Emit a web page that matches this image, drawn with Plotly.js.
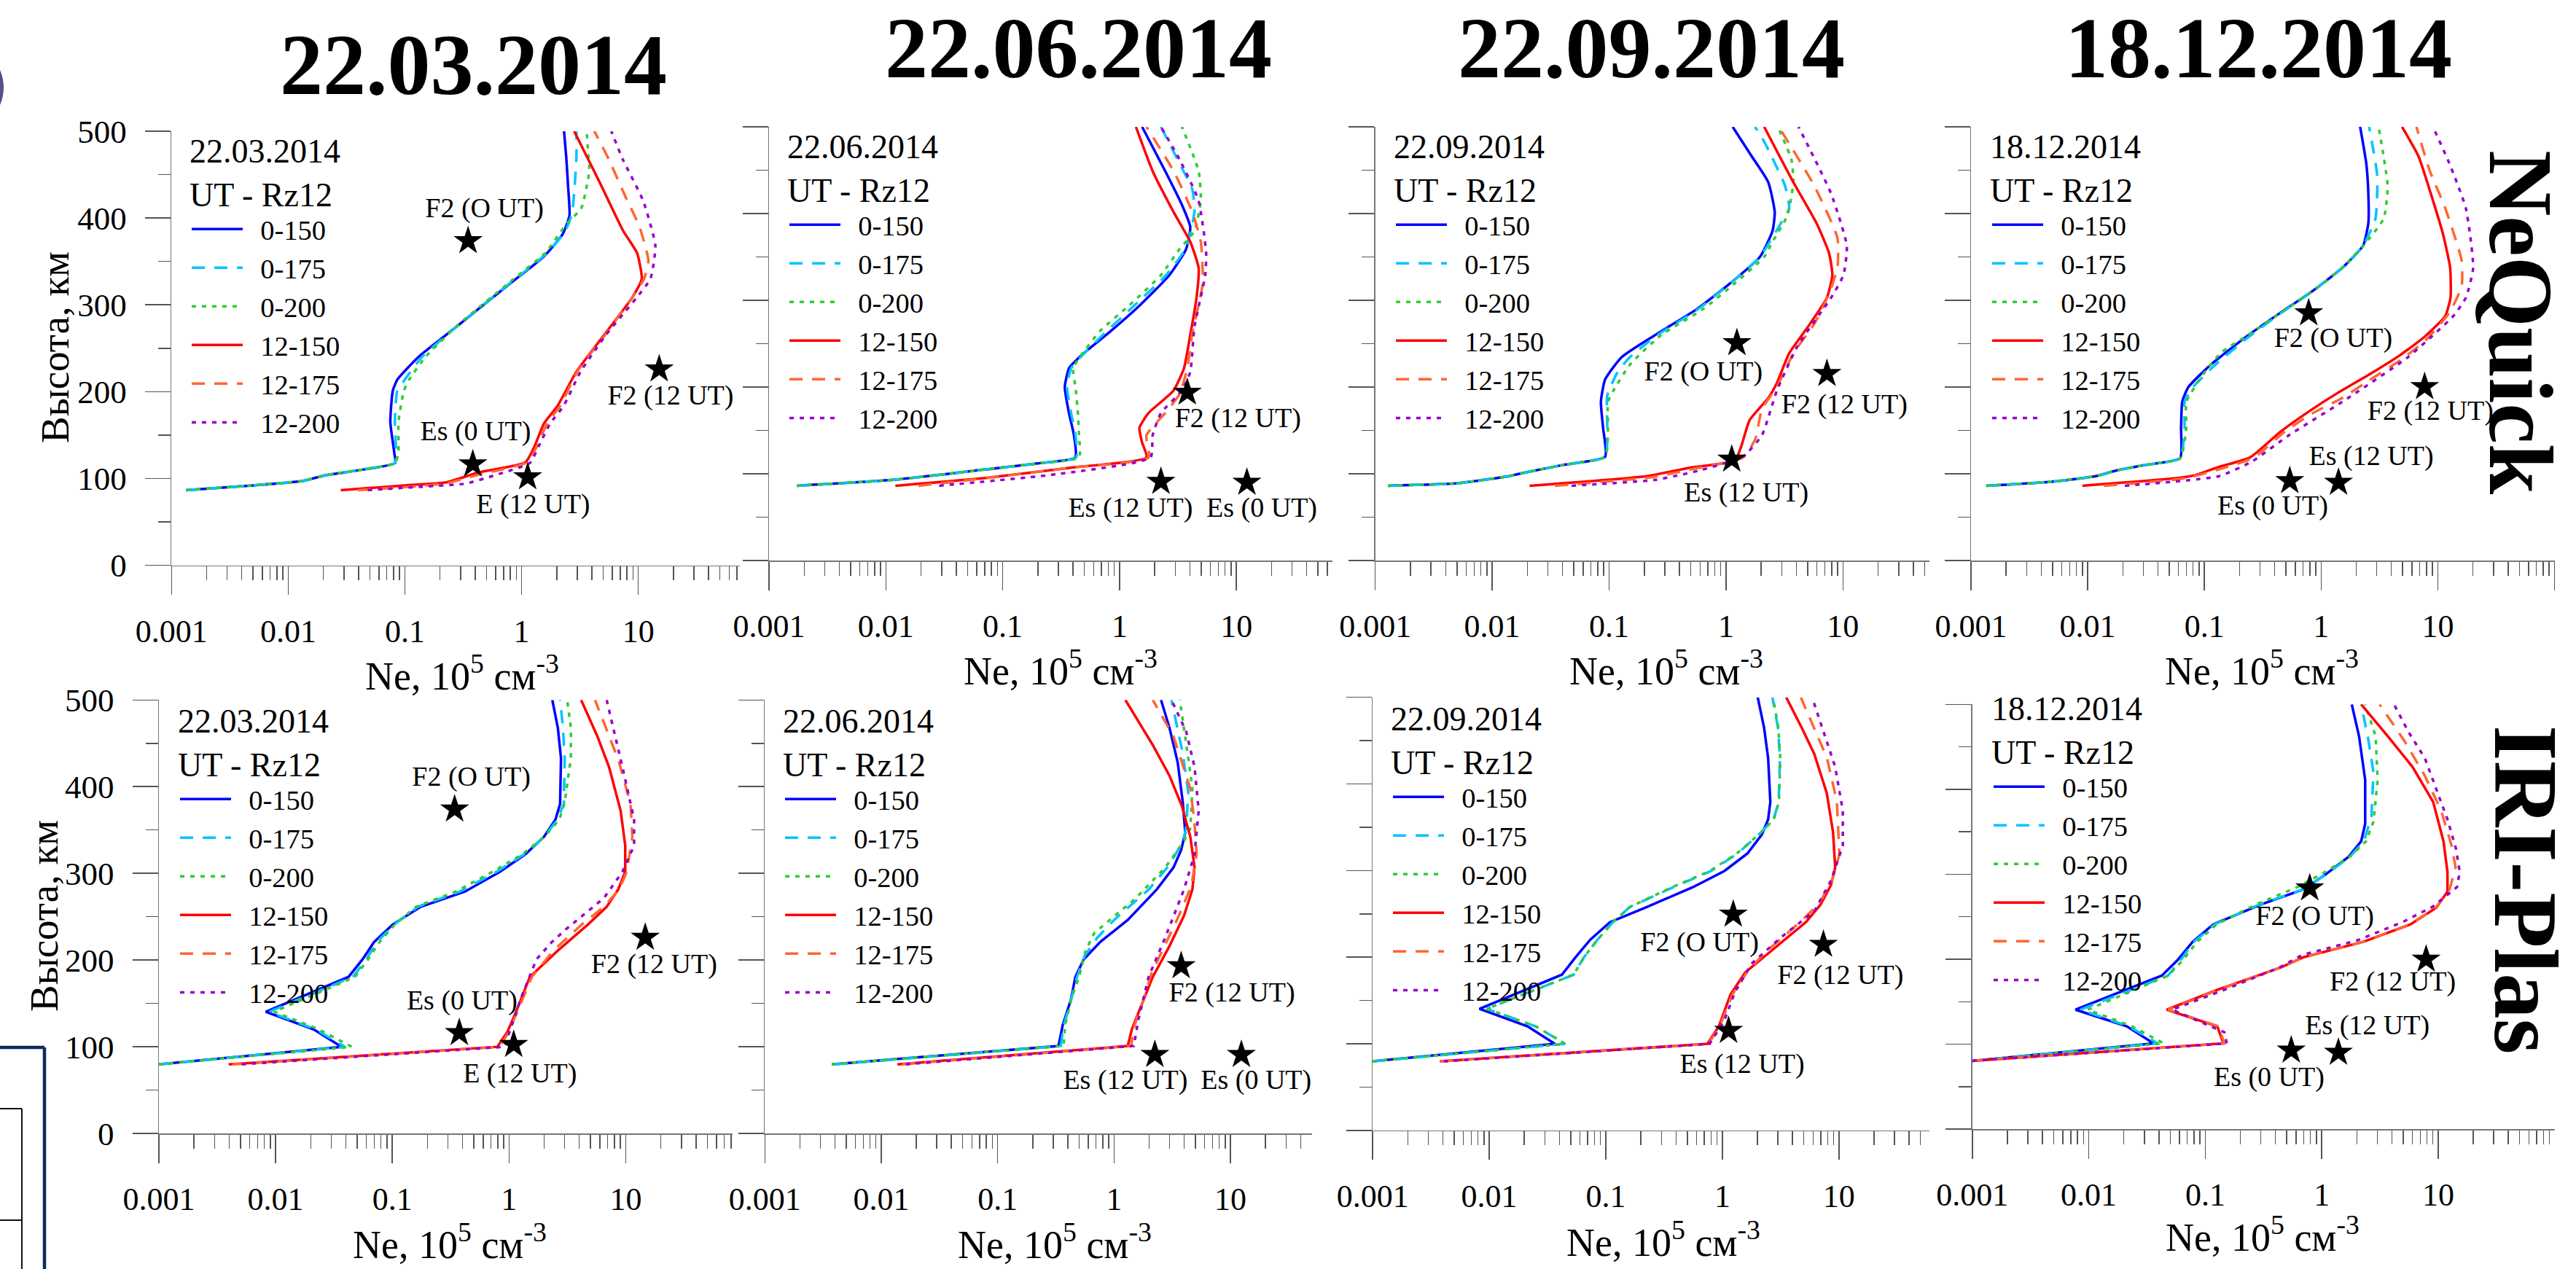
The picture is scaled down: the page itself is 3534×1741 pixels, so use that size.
<!DOCTYPE html>
<html><head><meta charset="utf-8">
<script src="https://cdn.plot.ly/plotly-3.0.1.min.js"></script>
<style>html,body{margin:0;padding:0;background:#fff;}#chart{width:3534px;height:1741px;}</style>
</head><body><div id="chart"></div>
<script>
// ---------------- DATA (Ne in 10^5 cm^-3, h in km) ----------------
const SERIES = ['0-150','0-175','0-200','12-150','12-175','12-200'];
const DATES = ['22.03.2014','22.06.2014','22.09.2014','18.12.2014'];
const MODELS = ['NeQuick','IRI-Plas'];
const TICK_VALUES = [0.001, 0.01, 0.1, 1, 10, 100];
const TICK_TEXT = ['0.001','0.01','0.1','1','10','100'];

// NeQuick 22.03.2014
const nq_mar_0150_ne = [0.00133,0.005,0.0132,0.0208,0.045,0.0824,0.081,0.075,0.0787,0.0863,0.1306,0.272,0.43,0.817,1.55,2.24,2.57,2.50,2.41,2.31];
const nq_mar_0150_h  = [86.5,92,97,103.7,110.5,117.8,130,165,201,214,240,274,295.6,325.6,355.6,381,402.7,437,471,500];
const nq_mar_0175_ne = [0.00133,0.005,0.0132,0.0208,0.045,0.0824,0.084,0.082,0.086,0.1,0.14,0.272,0.44,0.85,1.6,2.35,2.7,2.85,2.95,2.95];
const nq_mar_0175_h  = [86.5,92,97,103.7,110.5,117.8,130,165,201,214,240,274,297,328,358,384,405,437,471,500];
const nq_mar_0200_ne = [0.00133,0.005,0.0132,0.0208,0.045,0.0824,0.088,0.088,0.098,0.109,0.15,0.28,0.44,0.84,1.6,2.45,3.24,3.8,3.7,3.61];
const nq_mar_0200_h  = [86.5,92,97,103.7,110.5,117.8,130,165,201,214,240,276,298,329,360,394,411,454,480,500];
const nq_mar_12150_ne = [0.0282,0.1,0.226,0.43,1.08,1.29,1.55,2.04,2.95,5.12,8.87,10.7,9.73,7.39,4.67,2.82];
const nq_mar_12150_h  = [86.5,92,95.5,107,118.7,137,163,184,223,265.6,308.5,330,360,385.6,441,500];
const nq_mar_12175_ne = [0.0395,0.1,0.22,0.42,1.12,1.35,1.65,2.15,3.0,5.2,8.9,11.2,12.2,10.2,7.73,5.61,4.2];
const nq_mar_12175_h  = [86.5,90,94,104,118.7,137,163,184,223,265.6,308.5,330,351,390.5,425,467,500];
const nq_mar_12200_ne = [0.048,0.12,0.33,0.6,1.18,1.4,1.75,2.3,3.2,5.3,9.7,12.7,14.0,11.0,7.39,5.87];
const nq_mar_12200_h  = [86.5,90,94,104,118,137,163,184,223,265.6,308.5,330,368,420,467,500];
const nq_mar_star_ne = [0.348,0.382,1.127,15.1];
const nq_mar_star_h  = [373.6,116.5,101.5,225.8];
const nq_mar_lbl     = ['F2 (O UT)','Es (0 UT)','E (12 UT)','F2 (12 UT)'];
const nq_mar_lbl_ne  = [0.48,0.403,1.256,18.9];
const nq_mar_lbl_h   = [409,152,67.7,192.8];

// NeQuick 22.06.2014
const nq_jun_0150_ne = [0.00174,0.01156,0.071,0.2,0.418,0.407,0.369,0.34,0.37,0.473,0.842,1.50,2.67,3.71,4.03,3.42,2.46,1.56];
const nq_jun_0150_h  = [86.2,93,105,112,118.8,144.5,170,200,221.7,236.7,264.6,294.6,329,359,384.6,410,449,500];
const nq_jun_0175_ne = [0.00174,0.01156,0.071,0.2,0.425,0.42,0.385,0.355,0.385,0.48,0.78,1.35,2.5,3.7,4.37,4.2,3.15,2.26];
const nq_jun_0175_h  = [86.2,93,105,112,118.8,144.5,170,200,221.7,236.7,264.6,294.6,329,360,401.8,427.5,461.8,500];
const nq_jun_0200_ne = [0.00174,0.01156,0.071,0.2,0.45,0.45,0.44,0.42,0.40,0.47,0.68,1.22,2.26,3.26,4.37,4.96,4.75,3.42];
const nq_jun_0200_h  = [86.2,93,105,112,118.8,144.5,170,200,221.7,236.7,264.6,294.6,329,359,380,414.7,449,500];
const nq_jun_12150_ne = [0.01206,0.071,0.369,1.70,1.56,1.48,1.77,2.90,3.56,4.03,4.56,4.75,4.03,2.90,1.92,1.38];
const nq_jun_12150_h  = [86.2,95.2,106.8,118.8,136,153,170,196,221.7,260,303,337.5,367.5,401.8,449,500];
const nq_jun_12175_ne = [0.019,0.075,0.37,1.77,1.70,2.46,3.26,3.80,4.17,4.75,5.16,4.96,4.2,2.9,1.70];
const nq_jun_12175_h  = [86.2,95.2,106.8,118.8,144.5,170,191.7,221.7,260,294.6,320,367.5,401.8,449,500];
const nq_jun_12200_ne = [0.0286,0.288,1.84,1.92,2.26,3.42,4.03,4.37,5.41,5.51,4.75,3.28,2.26];
const nq_jun_12200_h  = [86.2,99.5,118.8,144.5,170,196,217.4,269,329,354.6,414.7,461.8,500];
const nq_jun_star_ne = [3.80,2.26,12.3];
const nq_jun_star_h  = [193.8,90.9,90];
const nq_jun_lbl     = ['F2 (12 UT)','Es (12 UT)','Es (0 UT)'];
const nq_jun_lbl_ne  = [10.3,1.24,16.5];
const nq_jun_lbl_h   = [161.7,58.7,58.7];

// NeQuick 22.09.2014
const nq_sep_0150_ne = [0.00129,0.005,0.01387,0.0209,0.0405,0.0925,0.0888,0.0851,0.0925,0.1286,0.248,0.566,1.096,1.95,2.50,2.61,2.30,1.66,1.14];
const nq_sep_0150_h  = [86.2,89,97.3,102.5,110.2,119.6,153,183,208.8,234.6,260,290,320,350,380,401.8,436,466,500];
const nq_sep_0175_ne = [0.00129,0.005,0.01387,0.0209,0.0405,0.0925,0.0964,0.0964,0.118,0.151,0.26,0.58,1.1,1.95,2.95,3.47,3.20,2.12,1.77];
const nq_sep_0175_h  = [86.2,89,97.3,102.5,110.2,119.6,153,190,217,234.6,260,290,320,350,389,406,431.8,483,500];
const nq_sep_0200_ne = [0.00129,0.005,0.01387,0.0209,0.0405,0.0925,0.0978,0.0978,0.109,0.151,0.28,0.64,1.2,2.12,2.5,3.34,3.77,3.63,2.78];
const nq_sep_0200_h  = [86.2,89,97.3,102.5,110.2,119.6,153,183,196,226,260,290,320,350,367.5,397.5,436,462,500];
const nq_sep_12150_ne = [0.0209,0.211,0.481,1.19,1.35,1.59,2.30,2.72,3.47,5.24,7.30,8.12,7.60,5.94,3.77,2.12];
const nq_sep_12150_h  = [86.2,97.3,106.8,115.4,131.6,161.7,187.4,204.5,238.9,273,303,329,354.6,389,436,500];
const nq_sep_12175_ne = [0.0344,0.23,0.5,1.40,1.78,2.03,2.72,3.77,5.7,7.6,8.98,8.98,5.70,2.83];
const nq_sep_12175_h  = [86.2,96,105,118.8,140,174.5,200,238.9,273,307.5,337.5,371.8,431.8,500];
const nq_sep_12200_ne = [0.0478,0.248,0.6,1.40,2.03,2.72,4.10,7.92,10.1,10.8,7.92,4.17];
const nq_sep_12200_h  = [86.2,93,104,120,144.5,195.7,247.5,303,329,362.7,423,500];
const nq_sep_star_ne = [1.24,7.30,1.12];
const nq_sep_star_h  = [250.9,215.3,116.6];
const nq_sep_lbl     = ['F2 (O UT)','F2 (12 UT)','Es (12 UT)'];
const nq_sep_lbl_ne  = [0.64,10.3,1.49];
const nq_sep_lbl_h   = [215.3,178,75.9];

// NeQuick 18.12.2014
const nq_dec_0150_ne = [0.00135,0.005,0.01175,0.0176,0.0311,0.0619,0.0631,0.0646,0.0729,0.114,0.218,0.452,0.865,1.52,2.29,2.54,2.54,2.44,2.16];
const nq_dec_0150_h  = [86.2,91,97.3,103.8,110.2,117.9,153,183,200,226,256,286,311.7,337.5,363,389,423,457.5,500];
const nq_dec_0175_ne = [0.00135,0.005,0.01175,0.0176,0.0311,0.0619,0.0676,0.0676,0.08,0.125,0.23,0.46,0.87,1.52,2.29,2.92,3.03,2.58];
const nq_dec_0175_h  = [86.2,91,97.3,103.8,110.2,117.9,153,183,200,226,256,286,311.7,337.5,363,394,443,500];
const nq_dec_0200_ne = [0.00135,0.005,0.01175,0.0176,0.0311,0.0619,0.07,0.07,0.098,0.14,0.25,0.48,0.88,1.52,2.3,3.43,3.72,3.11];
const nq_dec_0200_h  = [86.2,91,97.3,103.8,110.2,117.9,153,183,215,240,262,288,312,337.5,363,394,431,500];
const nq_dec_12150_ne = [0.009,0.0596,0.0823,0.134,0.246,0.452,0.797,1.41,2.48,4.74,7.71,11.56,12.85,12.76,11.1,8.71,6.84,4.94];
const nq_dec_12150_h  = [86.2,95.2,98.2,108,118.8,148.8,172.4,193.8,213,236.7,258,281.7,303,337.5,376,423,466,500];
const nq_dec_12175_ne = [0.0138,0.07,0.14,0.267,0.49,0.85,1.52,2.6,4.9,8.0,12.6,16.0,16.0,11.6,8.5,6.56];
const nq_dec_12175_h  = [86.2,95,106,118.8,148.8,170,187.4,208,232,255,286,316,346,406,450,500];
const nq_dec_12200_ne = [0.0208,0.134,0.256,0.531,1.52,5.57,13.6,17.4,20.1,17.4,12.6,9.08];
const nq_dec_12200_h  = [86.2,97.3,114.2,144.5,183,234.6,282,303,337.5,406,457.5,500];
const nq_dec_star_ne = [0.783,7.71,1.41,0.539];
const nq_dec_star_h  = [285.2,200.3,90,91.8];
const nq_dec_lbl     = ['F2 (O UT)','F2 (12 UT)','Es (12 UT)','Es (0 UT)'];
const nq_dec_lbl_ne  = [1.27,8.65,2.69,0.385];
const nq_dec_lbl_h   = [253.9,170.2,118,60.9];

// IRI-Plas 22.03.2014
const iri_mar_0150_ne = [0.001,0.0368,0.0212,0.00824,0.0422,0.0556,0.07,0.101,0.175,0.419,0.832,1.38,1.99,2.50,2.74,2.79,2.62,2.35];
const iri_mar_0150_h  = [79.7,99.9,120,140.3,180.6,200.8,221,241,261.4,279,301.7,322,342,362,380,433,468,500];
const iri_mar_0175_ne = [0.001,0.0393,0.022,0.0088,0.046,0.06,0.074,0.104,0.165,0.38,0.78,1.35,2.0,2.6,2.95,3.0,2.9,2.74];
const iri_mar_0175_h  = [79.7,99.9,120,140.3,180.6,200.8,221,241,261.4,279,301.7,322,342,362,380,433,468,500];
const iri_mar_0200_ne = [0.001,0.045,0.0235,0.0097,0.048,0.062,0.078,0.105,0.16,0.35,0.72,1.3,2.0,2.7,3.0,3.39,3.39,3.15];
const iri_mar_0200_h  = [79.7,99.9,120,140.3,180.6,200.8,221,241,261.4,279,301.7,322,342,362,382,433,468,500];
const iri_mar_12150_ne = [0.00396,0.794,0.972,1.15,1.51,2.62,4.75,6.87,8.63,9.91,9.91,9.04,7.19,5.72,4.15];
const iri_mar_12150_h  = [79.7,99.9,117.6,140.3,180.6,210.9,241,261.4,281.5,301.7,332,372.4,422.8,458,500];
const iri_mar_12175_ne = [0.00427,0.83,1.0,1.18,1.57,2.4,4.2,6.5,8.8,10.2,11.4,11.0,8.7,5.46];
const iri_mar_12175_h  = [79.7,99.9,117.6,140.3,180.6,210.9,241,261.4,281.5,301.7,342,380,430,500];
const iri_mar_12200_ne = [0.00512,0.912,1.09,1.3,1.72,2.3,3.12,6.51,9.37,11.8,11.8,9.37,6.87];
const iri_mar_12200_h  = [79.7,99.9,130.1,160,200.8,220,236.2,271.5,301.7,332,362.3,422.8,500];
const iri_mar_star_ne = [0.342,0.375,1.097,14.7];
const iri_mar_star_h  = [373.9,116,102.4,226];
const iri_mar_lbl     = ['F2 (O UT)','Es (0 UT)','E (12 UT)','F2 (12 UT)'];
const iri_mar_lbl_ne  = [0.475,0.396,1.24,17.5];
const iri_mar_lbl_h   = [409,151,67.1,193];

// IRI-Plas 22.06.2014
const iri_jun_0150_ne = [0.00376,0.333,0.362,0.428,0.465,0.548,0.763,1.31,2.33,3.24,3.77,4.09,3.89,3.52,2.99,2.53];
const iri_jun_0150_h  = [79.7,100.9,125,155.4,180.6,200.8,221,246.2,281.5,306.8,327,347,382.4,428,468,500];
const iri_jun_0175_ne = [0.00398,0.348,0.37,0.43,0.48,0.56,0.72,1.0,1.99,3.0,3.9,4.16,4.34,3.9,3.11];
const iri_jun_0175_h  = [79.7,100.9,125,155.4,180.6,205,226,246.2,281.5,310,337,352,392.8,437.6,500];
const iri_jun_0200_ne = [0.00376,0.368,0.38,0.43,0.5,0.571,0.674,1.54,2.75,3.99,4.52,4.71,4.34,3.67];
const iri_jun_0200_h  = [79.7,100.9,125,155.4,180.6,210.9,231,271.4,306.8,337,352,397.6,432.9,500];
const iri_jun_12150_ne = [0.01377,1.31,1.42,1.75,2.15,2.99,3.99,4.71,4.91,4.52,3.83,2.99,2.15,1.25];
const iri_jun_12150_h  = [79.7,100.9,120,150.4,180.6,216,251.3,281.5,306.8,342,377.4,412.7,448,500];
const iri_jun_12175_ne = [0.015,1.4,1.5,1.8,2.1,2.7,3.6,4.6,5.12,4.9,4.52,3.24,2.15];
const iri_jun_12175_h  = [79.7,100.9,125,155,185,216,251,285,322,360,397.6,458,500];
const iri_jun_12200_ne = [0.01625,1.48,1.61,1.98,2.75,3.99,4.91,5.33,4.91,4.16,3.11];
const iri_jun_12200_h  = [79.7,100.9,130.1,180.6,226,281.5,321.9,372.4,422.8,463.7,500];
const iri_jun_star_ne = [3.77,2.24,12.4];
const iri_jun_star_h  = [193.2,90.8,90.8];
const iri_jun_lbl     = ['F2 (12 UT)','Es (12 UT)','Es (0 UT)'];
const iri_jun_lbl_ne  = [10.3,1.25,16.6];
const iri_jun_lbl_h   = [160.4,59.5,59.5];

// IRI-Plas 22.09.2014
const iri_sep_0150_ne = [0.001,0.0365,0.0213,0.00824,0.042,0.0551,0.0736,0.1086,0.225,0.558,1.04,1.64,2.18,2.47,2.58,2.47,2.28,2.01];
const iri_sep_0150_h  = [79.8,100,120.2,140.4,179.8,200,220.2,240.4,258,280.8,299.5,319.7,341.4,359,379.3,429.8,465,500];
const iri_sep_0175_ne = [0.001,0.0449,0.025,0.0095,0.053,0.065,0.085,0.115,0.161,0.38,0.8,1.35,2.05,2.75,3.04,3.12,3.0,2.69];
const iri_sep_0175_h  = [79.8,100,120.2,140.4,179.8,200,220.2,240.4,258,280.8,299.5,319.7,341.4,359,379.3,429.8,465,500];
const iri_sep_0200_ne = [0.001,0.0449,0.025,0.0095,0.053,0.065,0.085,0.115,0.161,0.37,0.78,1.33,2.05,2.76,3.06,3.14,3.02,2.72];
const iri_sep_0200_h  = [79.8,100,120.2,140.4,179.8,200,220.2,240.4,258,280.8,299.5,319.7,341.4,359,379.3,429.8,465,500];
const iri_sep_12150_ne = [0.00376,0.746,0.933,1.175,1.57,2.37,5.2,6.95,8.55,9.29,8.91,7.87,6.14,4.79,3.53];
const iri_sep_12150_h  = [79.8,100,120.2,157,182.3,202.5,240.4,260.6,283.3,303.5,344,389.4,434.8,465,500];
const iri_sep_12175_ne = [0.00376,0.76,0.95,1.22,1.62,2.3,4.6,6.8,8.8,10.1,9.6,7.9,4.71];
const iri_sep_12175_h  = [79.8,100,120.2,157,182.3,205,240,262,290,318.7,380,430,500];
const iri_sep_12200_ne = [0.00408,0.778,1.04,1.28,1.78,3.17,6.14,8.55,10.8,10.8,9.29,5.89];
const iri_sep_12200_h  = [79.8,100,126.8,159.6,192.4,222.7,253,288.4,328.8,369.2,419.7,500];
const iri_sep_star_ne = [1.24,7.36,1.13];
const iri_sep_star_h  = [249.5,214.6,115.2];
const iri_sep_lbl     = ['F2 (O UT)','F2 (12 UT)','Es (12 UT)'];
const iri_sep_lbl_ne  = [0.637,10.3,1.48];
const iri_sep_lbl_h   = [215.2,177.3,74.7];

// IRI-Plas 18.12.2014
const iri_dec_0150_ne = [0.001,0.036,0.0212,0.00769,0.0424,0.0586,0.0779,0.117,0.298,0.698,1.09,1.71,2.18,2.36,2.36,2.09,1.81];
const iri_dec_0150_h  = [80.3,100.9,121,140.6,180.7,199.8,220.4,241,264.2,282.2,300.2,320.8,338.8,359.4,411,462.4,500];
const iri_dec_0175_ne = [0.001,0.039,0.022,0.0085,0.0479,0.062,0.08,0.12,0.29,0.69,1.1,1.75,2.3,2.67,2.78,2.5,2.18];
const iri_dec_0175_h  = [80.3,100.9,121,140.6,180.7,199.8,220.4,241,264.2,282.2,300.2,320.8,338.8,368,420,460,500];
const iri_dec_0200_ne = [0.001,0.044,0.0235,0.0098,0.048,0.065,0.085,0.125,0.27,0.62,1.05,1.75,2.4,2.78,3.02,2.90,2.36];
const iri_dec_0200_h  = [80.3,100.9,121,140.6,180.7,199.8,220.4,241,264.2,285,302,320.8,338.8,362,411,462.4,500];
const iri_dec_12150_ne = [0.001,0.143,0.127,0.0467,0.132,0.447,0.698,2.27,5.78,9.64,12.0,12.0,11.1,9.04,6.01,3.69,2.18];
const iri_dec_12150_h  = [80.3,100.9,121,140.6,164.8,190.5,202.4,220.4,241,260.6,279.6,302.8,338.8,385.2,426.4,462.4,500];
const iri_dec_12175_ne = [0.001,0.146,0.13,0.048,0.135,0.45,0.7,2.25,5.7,9.5,12.5,14.1,13.0,10.6,7.67,5.12,3.14];
const iri_dec_12175_h  = [80.3,100.9,121,140.6,164.8,190.5,202.4,220.4,241,260.6,282,308,334,375,416,457,500];
const iri_dec_12200_ne = [0.001,0.153,0.146,0.0519,0.14,0.43,0.68,2.0,5.0,9.0,14.5,15.3,14.2,12.0,7.67,5.55,4.17];
const iri_dec_12200_h  = [80.3,100.9,114,140.6,163,190,205,222,244,262,285,302.8,330,364.6,436.7,467.6,500];
const iri_dec_star_ne = [0.789,7.87,1.39,0.547];
const iri_dec_star_h  = [283.7,199.8,90.1,92.7];
const iri_dec_lbl     = ['F2 (O UT)','F2 (12 UT)','Es (12 UT)','Es (0 UT)'];
const iri_dec_lbl_ne  = [0.87,4.07,2.46,0.353];
const iri_dec_lbl_h   = [248.7,171.5,120,59.2];

// ---------------- assemble panels from the named arrays ----------------
const PANELS = [
  {curves:[[nq_mar_0150_ne,nq_mar_0150_h],[nq_mar_0175_ne,nq_mar_0175_h],[nq_mar_0200_ne,nq_mar_0200_h],[nq_mar_12150_ne,nq_mar_12150_h],[nq_mar_12175_ne,nq_mar_12175_h],[nq_mar_12200_ne,nq_mar_12200_h]],
   star:[nq_mar_star_ne,nq_mar_star_h], lbl:[nq_mar_lbl,nq_mar_lbl_ne,nq_mar_lbl_h]},
  {curves:[[nq_jun_0150_ne,nq_jun_0150_h],[nq_jun_0175_ne,nq_jun_0175_h],[nq_jun_0200_ne,nq_jun_0200_h],[nq_jun_12150_ne,nq_jun_12150_h],[nq_jun_12175_ne,nq_jun_12175_h],[nq_jun_12200_ne,nq_jun_12200_h]],
   star:[nq_jun_star_ne,nq_jun_star_h], lbl:[nq_jun_lbl,nq_jun_lbl_ne,nq_jun_lbl_h]},
  {curves:[[nq_sep_0150_ne,nq_sep_0150_h],[nq_sep_0175_ne,nq_sep_0175_h],[nq_sep_0200_ne,nq_sep_0200_h],[nq_sep_12150_ne,nq_sep_12150_h],[nq_sep_12175_ne,nq_sep_12175_h],[nq_sep_12200_ne,nq_sep_12200_h]],
   star:[nq_sep_star_ne,nq_sep_star_h], lbl:[nq_sep_lbl,nq_sep_lbl_ne,nq_sep_lbl_h]},
  {curves:[[nq_dec_0150_ne,nq_dec_0150_h],[nq_dec_0175_ne,nq_dec_0175_h],[nq_dec_0200_ne,nq_dec_0200_h],[nq_dec_12150_ne,nq_dec_12150_h],[nq_dec_12175_ne,nq_dec_12175_h],[nq_dec_12200_ne,nq_dec_12200_h]],
   star:[nq_dec_star_ne,nq_dec_star_h], lbl:[nq_dec_lbl,nq_dec_lbl_ne,nq_dec_lbl_h]},
  {curves:[[iri_mar_0150_ne,iri_mar_0150_h],[iri_mar_0175_ne,iri_mar_0175_h],[iri_mar_0200_ne,iri_mar_0200_h],[iri_mar_12150_ne,iri_mar_12150_h],[iri_mar_12175_ne,iri_mar_12175_h],[iri_mar_12200_ne,iri_mar_12200_h]],
   star:[iri_mar_star_ne,iri_mar_star_h], lbl:[iri_mar_lbl,iri_mar_lbl_ne,iri_mar_lbl_h]},
  {curves:[[iri_jun_0150_ne,iri_jun_0150_h],[iri_jun_0175_ne,iri_jun_0175_h],[iri_jun_0200_ne,iri_jun_0200_h],[iri_jun_12150_ne,iri_jun_12150_h],[iri_jun_12175_ne,iri_jun_12175_h],[iri_jun_12200_ne,iri_jun_12200_h]],
   star:[iri_jun_star_ne,iri_jun_star_h], lbl:[iri_jun_lbl,iri_jun_lbl_ne,iri_jun_lbl_h]},
  {curves:[[iri_sep_0150_ne,iri_sep_0150_h],[iri_sep_0175_ne,iri_sep_0175_h],[iri_sep_0200_ne,iri_sep_0200_h],[iri_sep_12150_ne,iri_sep_12150_h],[iri_sep_12175_ne,iri_sep_12175_h],[iri_sep_12200_ne,iri_sep_12200_h]],
   star:[iri_sep_star_ne,iri_sep_star_h], lbl:[iri_sep_lbl,iri_sep_lbl_ne,iri_sep_lbl_h]},
  {curves:[[iri_dec_0150_ne,iri_dec_0150_h],[iri_dec_0175_ne,iri_dec_0175_h],[iri_dec_0200_ne,iri_dec_0200_h],[iri_dec_12150_ne,iri_dec_12150_h],[iri_dec_12175_ne,iri_dec_12175_h],[iri_dec_12200_ne,iri_dec_12200_h]],
   star:[iri_dec_star_ne,iri_dec_star_h], lbl:[iri_dec_lbl,iri_dec_lbl_ne,iri_dec_lbl_h]}
];

// ---------------- layout geometry (pixels) & styles ----------------
const W = 3534, H = 1741;
const FONT = 'Liberation Serif, Times New Roman, serif';
// x0: pixel of 0.001, dec: px per decade, xend: right end of visible axis, yb/yt: pixel of 0 / 500 km
const GEOM = [
  {x0:235.3, dec:160.1, xend:1015,   yb:775.5, yt:180,   legL:258,  legT:163, showY:true,  smooth:true},
  {x0:1055,  dec:160.3, xend:1828,   yb:769,   yt:174,   legL:1078, legT:157, showY:false, smooth:true},
  {x0:1886.7,dec:160.4, xend:2647,   yb:769,   yt:174,   legL:1910, legT:157, showY:false, smooth:true},
  {x0:2704,  dec:160.1, xend:3504.5, yb:769,   yt:174,   legL:2728, legT:157, showY:false, smooth:true},
  {x0:218,   dec:160.1, xend:1005,   yb:1555,  yt:960.3, legL:242,  legT:945, showY:true,  smooth:false},
  {x0:1049.3,dec:159.7, xend:1799.6, yb:1555,  yt:960.3, legL:1072, legT:945, showY:false, smooth:false},
  {x0:1883.2,dec:159.9, xend:2646.7, yb:1550.9,yt:956.7, legL:1906, legT:942, showY:false, smooth:false},
  {x0:2705.8,dec:159.8, xend:3504.6, yb:1549.1,yt:966.3, legL:2730, legT:928, showY:false, smooth:false}
];
const COLORS = ['#0000ff','#00c4ff','#33cc33','#ff0000','#ff6633','#9900cc'];
const DASHES = ['solid','18px,13px','6px,8px','solid','18px,13px','6px,8px'];
const NAME_PAD = '\u00a0\u00a0';

const minorVals = [];
for (let e = -3; e < 2; e++) for (let m = 2; m <= 9; m++) minorVals.push(m * Math.pow(10, e));

const traces = [];
const layout = {
  width: W, height: H, margin: {l:0, r:0, t:0, b:0},
  paper_bgcolor: '#fff', plot_bgcolor: 'rgba(0,0,0,0)',
  font: {family: FONT, color: '#000'},
  showlegend: true, hovermode: false,
  annotations: [], shapes: []
};

PANELS.forEach((P, p) => {
  const g = GEOM[p];
  const sfx = p === 0 ? '' : String(p + 1);
  const legKey = p === 0 ? 'legend' : 'legend' + (p + 1);
  const xmax = -3 + (g.xend - g.x0) / g.dec;
  P.curves.forEach((c, s) => {
    traces.push({
      type: 'scatter', mode: 'lines', x: c[0], y: c[1],
      xaxis: 'x' + sfx, yaxis: 'y' + sfx, name: NAME_PAD + SERIES[s], legend: legKey,
      line: {color: COLORS[s], width: 3.5, dash: DASHES[s],
             shape: g.smooth ? 'spline' : 'linear', smoothing: 0.5}, hoverinfo: 'skip'
    });
  });
  traces.push({
    type: 'scatter', mode: 'markers', x: P.star[0], y: P.star[1],
    xaxis: 'x' + sfx, yaxis: 'y' + sfx, showlegend: false, cliponaxis: false,
    marker: {symbol: 'star', size: 30, color: '#000', line: {width: 0}}, hoverinfo: 'skip'
  });
  traces.push({
    type: 'scatter', mode: 'text', x: P.lbl[1], y: P.lbl[2], text: P.lbl[0],
    xaxis: 'x' + sfx, yaxis: 'y' + sfx, showlegend: false, cliponaxis: false,
    textposition: 'middle center', textfont: {family: FONT, size: 38, color: '#000'}, hoverinfo: 'skip'
  });
  const tv = TICK_VALUES.filter(v => Math.log10(v) <= xmax + 1e-6);
  layout['xaxis' + sfx] = {
    type: 'log', range: [-3, xmax], domain: [g.x0 / W, g.xend / W], anchor: 'y' + sfx,
    showgrid: false, zeroline: false, showline: true, linecolor: '#777', linewidth: 1.5,
    ticks: 'outside', ticklen: 39, tickwidth: 1.5, tickcolor: '#555',
    tickmode: 'array', tickvals: tv, ticktext: TICK_TEXT.slice(0, tv.length),
    tickfont: {family: FONT, size: 44, color: '#000'}, ticklabelstandoff: 12,
    minor: {tickmode: 'array', tickvals: minorVals.filter(v => Math.log10(v) <= xmax), ticks: 'outside', ticklen: 19, tickwidth: 1.5, tickcolor: '#555'},
    fixedrange: true
  };
  layout['yaxis' + sfx] = {
    range: [0, 500], domain: [1 - g.yb / H, 1 - g.yt / H], anchor: 'x' + sfx,
    showgrid: false, zeroline: false, showline: true, linecolor: '#777', linewidth: 1.5,
    ticks: 'outside', ticklen: 35, tickwidth: 1.5, tickcolor: '#555',
    tickmode: 'linear', tick0: 0, dtick: 100, showticklabels: g.showY,
    tickfont: {family: FONT, size: 45, color: '#000'}, ticklabelstandoff: 16,
    minor: {tickmode: 'linear', tick0: 0, dtick: 50, ticks: 'outside', ticklen: 17, tickwidth: 1.5, tickcolor: '#555'},
    fixedrange: true
  };
  layout[legKey] = {
    x: g.legL / W, y: 1 - g.legT / H, xanchor: 'left', yanchor: 'top',
    bgcolor: 'rgba(0,0,0,0)', borderwidth: 0, itemwidth: 70, tracegroupgap: 0,
    font: {family: FONT, size: 38.5, color: '#000'},
    title: {text: DATES[p % 4] + '<br>UT - Rz12', font: {family: FONT, size: 46, color: '#000'}},
    itemclick: false, itemdoubleclick: false
  };
});

// ---------------- text annotations ----------------
const COL_TITLE_POS = [[649, 90], [1479, 66], [2265, 66], [3098, 66]];
DATES.forEach((d, i) => layout.annotations.push({
  xref: 'paper', yref: 'paper', x: COL_TITLE_POS[i][0] / W, y: 1 - COL_TITLE_POS[i][1] / H,
  xanchor: 'center', yanchor: 'middle', showarrow: false, text: '<b>' + d + '</b>',
  font: {family: FONT, size: 118, color: '#000'}
}));
const MODEL_POS = [[3458, 442], [3465, 1220]];
MODELS.forEach((m, i) => layout.annotations.push({
  xref: 'paper', yref: 'paper', x: MODEL_POS[i][0] / W, y: 1 - MODEL_POS[i][1] / H,
  xanchor: 'center', yanchor: 'middle', showarrow: false, textangle: 90, text: '<b>' + m + '</b>',
  font: {family: FONT, size: 125, color: '#000'}
}));
const YTITLE_POS = [[76, 477], [60, 1257]];
YTITLE_POS.forEach(pos => layout.annotations.push({
  xref: 'paper', yref: 'paper', x: pos[0] / W, y: 1 - pos[1] / H,
  xanchor: 'center', yanchor: 'middle', showarrow: false, textangle: -90, text: 'Высота, км',
  font: {family: FONT, size: 55, color: '#000'}
}));
const XTITLE_POS = [[634, 923], [1455, 917], [2286, 917], [3103, 917], [617, 1703], [1447, 1703], [2282, 1700], [3104, 1693]];
XTITLE_POS.forEach(pos => layout.annotations.push({
  xref: 'paper', yref: 'paper', x: pos[0] / W, y: 1 - pos[1] / H,
  xanchor: 'center', yanchor: 'middle', showarrow: false,
  text: 'Ne, 10<sup>5</sup> см<sup>-3</sup>',
  font: {family: FONT, size: 54, color: '#000'}
}));

// ---------------- slide decorations at the left edge ----------------
const px = v => v / W, py = v => 1 - v / H;
layout.shapes.push({type: 'circle', xref: 'paper', yref: 'paper', x0: px(-117), x1: px(5), y0: py(59), y1: py(181),
  fillcolor: '#5d4b8a', line: {width: 0}});
layout.shapes.push({type: 'line', xref: 'paper', yref: 'paper', x0: 0, x1: px(61), y0: py(1437), y1: py(1437), line: {color: '#0f2a5e', width: 4.5}});
layout.shapes.push({type: 'line', xref: 'paper', yref: 'paper', x0: px(61), x1: px(61), y0: py(1437), y1: py(1745), line: {color: '#0f2a5e', width: 4.5}});
layout.shapes.push({type: 'line', xref: 'paper', yref: 'paper', x0: 0, x1: px(30), y0: py(1521), y1: py(1521), line: {color: '#111', width: 2}});
layout.shapes.push({type: 'line', xref: 'paper', yref: 'paper', x0: px(30), x1: px(30), y0: py(1521), y1: py(1745), line: {color: '#111', width: 2}});
layout.shapes.push({type: 'line', xref: 'paper', yref: 'paper', x0: 0, x1: px(30), y0: py(1674), y1: py(1674), line: {color: '#111', width: 2}});

Plotly.newPlot('chart', traces, layout, {staticPlot: true, displayModeBar: false});
</script>
</body></html>
